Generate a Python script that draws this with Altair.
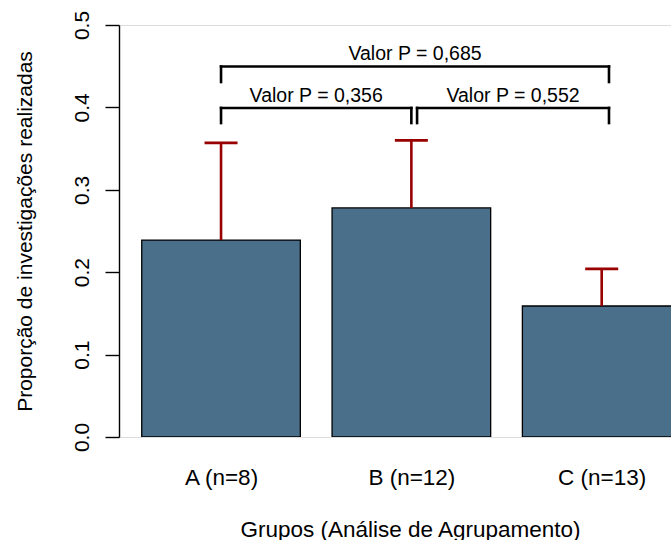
import altair as alt
import pandas as pd

# ---- data ----
groups = ["A (n=8)", "B (n=12)", "C (n=13)"]
proportions = [0.239, 0.278, 0.159]
upper = [0.357, 0.360, 0.204]

bracket_left = [0.70, 0.70, 1.936]
bracket_right = [3.146, 1.90, 3.146]
bracket_top = [0.4496, 0.3993, 0.3993]
bracket_foot = [0.4308, 0.381, 0.381]
bracket_labels = ["Valor P = 0,685", "Valor P = 0,356", "Valor P = 0,552"]
label_y = [0.4575, 0.4069, 0.4069]

y_ticks = [0.0, 0.1, 0.2, 0.3, 0.4, 0.5]

# barplot geometry (R style: bar width 1, space 0.2)
BAR_W = 1.0
SPACE = 0.2
centers = [SPACE + BAR_W / 2 + i * (BAR_W + SPACE) for i in range(len(groups))]
CAP = 0.104

bars = pd.DataFrame({
    "group": groups,
    "x0": [c - BAR_W / 2 for c in centers],
    "x1": [c + BAR_W / 2 for c in centers],
    "c": centers,
    "cl": [c - CAP for c in centers],
    "cr": [c + CAP for c in centers],
    "p": proportions,
    "up": upper,
})

br = pd.DataFrame({
    "xl": bracket_left,
    "xr": bracket_right,
    "yt": bracket_top,
    "yf": bracket_foot,
    "label": bracket_labels,
    "ly": label_y,
})
br["xm"] = (br["xl"] + br["xr"]) / 2

FONT = "Liberation Sans"
xscale = alt.Scale(domain=[0.0567, 3.537], nice=False, zero=False)
yscale = alt.Scale(domain=[0, 0.5], nice=False)

label_expr = "[" + ",".join("'%s'" % g for g in groups) + "][round((datum.value - %g) / %g)]" % (centers[0], BAR_W + SPACE)

xaxis = alt.Axis(
    values=centers, labelExpr=label_expr, domain=False, ticks=False, tickSize=0,
    labelPadding=47, labelBaseline="alphabetic", labelFontSize=22.5, labelFont=FONT,
    labelColor="black", labelFlush=False, labelOverlap=False, grid=False,
    title="Grupos (Análise de Agrupamento)", titleFont=FONT, titleFontSize=22.5,
    titleFontWeight="normal", titleColor="black", titleX=291, titleY=99,
    titleBaseline="alphabetic", titleAlign="center",
)
yaxis = alt.Axis(
    values=y_ticks, format=".1f", tickSize=14, tickColor="black", tickWidth=1.4,
    domainColor="black", domainWidth=1.4, labelAngle=270, labelAlign="center",
    labelBaseline="alphabetic", labelPadding=17, labelFontSize=21, labelFont=FONT,
    labelColor="black", grid=False,
    title="Proporção de investigações realizadas", titleFont=FONT, titleFontSize=21,
    titleFontWeight="normal", titleColor="black", titleAngle=270, titleX=-88,
    titleY=206, titleBaseline="alphabetic", titleAlign="center",
)

base = alt.Chart(bars)

rects = base.mark_rect(fill="#4A6F8A", stroke="black", strokeWidth=1.3, clip=True).encode(
    x=alt.X("x0:Q", scale=xscale, axis=xaxis),
    x2="x1:Q",
    y=alt.Y("p:Q", scale=yscale, axis=yaxis),
    y2=alt.datum(0),
)

err_v = base.mark_rule(color="#990000", strokeWidth=2.6).encode(
    x="c:Q", y="p:Q", y2="up:Q"
)
err_cap = base.mark_rule(color="#990000", strokeWidth=2.6).encode(
    x="cl:Q", x2="cr:Q", y="up:Q"
)

bbase = alt.Chart(br)
b_h = bbase.mark_rule(color="black", strokeWidth=2.6, strokeCap="square").encode(
    x="xl:Q", x2="xr:Q", y="yt:Q"
)
b_l = bbase.mark_rule(color="black", strokeWidth=2.6, strokeCap="square").encode(
    x="xl:Q", y="yt:Q", y2="yf:Q"
)
b_r = bbase.mark_rule(color="black", strokeWidth=2.6, strokeCap="square").encode(
    x="xr:Q", y="yt:Q", y2="yf:Q"
)
b_t = bbase.mark_text(font=FONT, fontSize=19.5, color="black", align="center",
                      baseline="alphabetic").encode(
    x="xm:Q", y="ly:Q", text="label:N"
)

chart = alt.layer(rects, err_v, err_cap, b_h, b_l, b_r, b_t).properties(
    width=552, height=412,
    autosize=alt.AutoSizeParams(type="none"),
    padding={"left": 119, "top": 25, "right": 0, "bottom": 103},
).configure_view(stroke=None).configure(background="white")

chart.save("out.html", embed_options={"renderer": "svg", "actions": False})
